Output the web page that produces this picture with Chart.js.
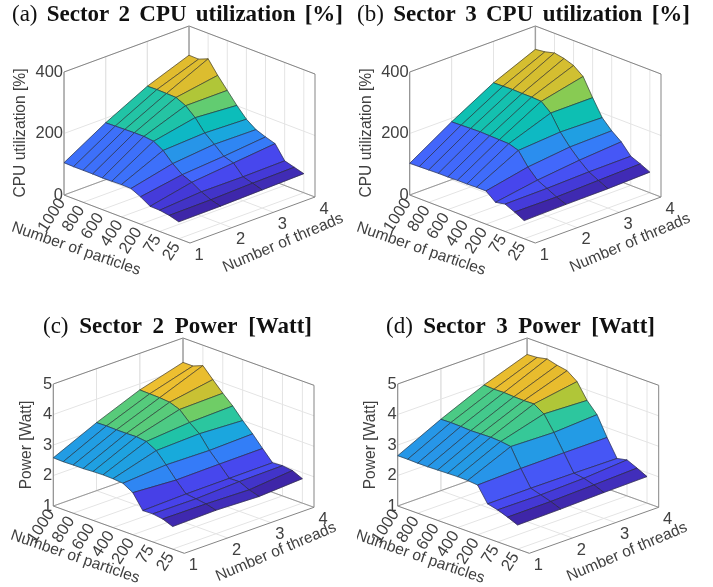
<!DOCTYPE html>
<html>
<head>
<meta charset="utf-8">
<title>Sector CPU utilization and power</title>
<script src="https://cdn.jsdelivr.net/npm/chart.js@4/dist/chart.umd.min.js"></script>
<style>
html, body { margin: 0; padding: 0; background: #fff; }
canvas { position: absolute; }
</style>
</head>
<body>
<canvas id="panelA" style="left:0;top:0"></canvas>
<canvas id="panelB" style="left:357px;top:0"></canvas>
<canvas id="panelC" style="left:0;top:300px"></canvas>
<canvas id="panelD" style="left:357px;top:300px"></canvas>
<script>
const particles = [1000, 900, 800, 700, 600, 500, 400, 300, 200, 100, 75, 50, 25];
const particleTicks = [1000, 800, 600, 400, 200, 75, 25];
const threads = [1, 2, 3, 4];
const cpuTicks = [0, 200, 400];
const powerTicks = [1, 2, 3, 4, 5];

// one row per thread count, one value per particle count
const cpuSector2 = [
    [105, 104, 104, 104, 103, 104, 105, 104, 89, 70, 69, 64, 55],
    [185, 186, 187, 188, 188, 184, 166, 135, 111, 98, 79, 65, 56],
    [254, 255, 254, 253, 238, 211, 173, 148, 121, 111, 78, 69, 59],
    [305, 304, 317, 275, 238, 201, 168, 146, 134, 124, 80, 71, 62]
];
const cpuSector3 = [
    [103, 104, 105, 106, 106, 107, 107, 108, 108, 83, 89, 75, 59],
    [188, 189, 190, 191, 190, 189, 188, 178, 136, 105, 90, 74, 62],
    [265, 266, 267, 266, 266, 264, 238, 188, 151, 120, 94, 78, 63],
    [324, 328, 336, 330, 319, 295, 238, 185, 154, 130, 95, 82, 67]
];
const powerSector2 = [
    [2.58, 2.57, 2.58, 2.58, 2.60, 2.61, 2.60, 2.57, 2.38, 1.91, 1.92, 1.87, 1.74],
    [3.23, 3.24, 3.23, 3.23, 3.24, 3.20, 3.02, 2.67, 2.29, 1.95, 1.91, 1.86, 1.77],
    [3.80, 3.79, 3.78, 3.75, 3.63, 3.32, 3.07, 2.64, 2.31, 1.96, 1.97, 1.82, 1.72],
    [4.20, 4.20, 4.33, 3.99, 3.66, 3.36, 3.00, 2.68, 2.32, 1.97, 1.99, 1.95, 1.80]
];
const powerSector3 = [
    [2.65, 2.65, 2.64, 2.64, 2.65, 2.66, 2.67, 2.66, 2.63, 2.13, 2.05, 1.93, 1.79],
    [3.34, 3.35, 3.34, 3.32, 3.33, 3.34, 3.32, 3.27, 2.67, 2.14, 2.04, 1.94, 1.81],
    [3.96, 3.94, 3.95, 3.93, 3.92, 3.93, 3.72, 3.23, 2.68, 2.13, 2.08, 1.98, 1.85],
    [4.46, 4.48, 4.55, 4.46, 4.40, 4.16, 3.66, 3.31, 2.68, 2.11, 2.18, 2.03, 1.87]
];

const parula = [
    [62, 38, 168], [71, 66, 235], [69, 99, 252], [50, 128, 247], [39, 150, 232],
    [18, 177, 214], [11, 191, 181], [55, 200, 151], [113, 205, 100], [171, 199, 57],
    [230, 187, 45], [254, 201, 56], [246, 233, 36], [249, 251, 21]
];
const GRID = '#e4e4e4';
const AXIS = '#858585';
const TEXT = '#404040';
const SERIF = '"Liberation Serif", serif';
const SANS = '"Liberation Sans", sans-serif';
const P_SPAN = 13.17;

const panels = [
    { id: 'panelA', w: 357, h: 300, tag: '(a) ', name: 'Sector 2 CPU utilization [%]', titleX: 12, titleW: 331, titleY: 21,
      values: cpuSector2, zTicks: cpuTicks, zMin: 0, zMax: 400, zLabel: 'CPU utilization [%]',
      L: [64, 195], F: [190, 243], R: [315, 197], zSpan: 123, zLabelX: 21, zLabelY: 133,
      pLabel: [76, 249], tLabel: [283, 243] },
    { id: 'panelB', w: 356, h: 300, tag: '(b) ', name: 'Sector 3 CPU utilization [%]', titleX: 0, titleW: 333, titleY: 21,
      values: cpuSector3, zTicks: cpuTicks, zMin: 0, zMax: 400, zLabel: 'CPU utilization [%]',
      L: [52.7, 195], F: [178.3, 243], R: [304, 197], zSpan: 123, zLabelX: 10, zLabelY: 133,
      pLabel: [64, 249], tLabel: [273, 243] },
    { id: 'panelC', w: 357, h: 287, tag: '(c) ', name: 'Sector 2 Power [Watt]', titleX: 43, titleW: 269, titleY: 33,
      values: powerSector2, zTicks: powerTicks, zMin: 1, zMax: 5, zLabel: 'Power [Watt]',
      L: [53.3, 206], F: [184.3, 253.3], R: [314, 207.3], zSpan: 122, zLabelX: 27, zLabelY: 145,
      pLabel: [75, 257], tLabel: [276, 252] },
    { id: 'panelD', w: 356, h: 287, tag: '(d) ', name: 'Sector 3 Power [Watt]', titleX: 29, titleW: 269, titleY: 33,
      values: powerSector3, zTicks: powerTicks, zMin: 1, zMax: 5, zLabel: 'Power [Watt]',
      L: [40.7, 206], F: [172.3, 253.3], R: [301.7, 207.3], zSpan: 122, zLabelX: 14, zLabelY: 145,
      pLabel: [63, 257], tLabel: [270, 252] }
];

function project(panel, p, t, z) {
    const fp = p / P_SPAN;
    const ft = (t - 1) / 3;
    const fz = (z - panel.zMin) / (panel.zMax - panel.zMin);
    return {
        x: panel.L[0] + (panel.F[0] - panel.L[0]) * fp + (panel.R[0] - panel.F[0]) * ft,
        y: panel.L[1] + (panel.F[1] - panel.L[1]) * fp + (panel.R[1] - panel.F[1]) * ft - panel.zSpan * fz
    };
}

function parulaColor(f) {
    const pos = Math.max(0, Math.min(1, f)) * (parula.length - 1);
    const i = Math.min(Math.floor(pos), parula.length - 2);
    const c = parula[i].map((v, k) => Math.round(v + (parula[i + 1][k] - v) * (pos - i)));
    return `rgb(${c[0]},${c[1]},${c[2]})`;
}

function lineSet(points, color, width) {
    return { data: points, showLine: true, pointRadius: 0, borderColor: color, borderWidth: width, tension: 0, clip: false };
}

function buildDatasets(panel) {
    const sets = [];
    const tEnd = threads[threads.length - 1];
    const pTickIdx = particleTicks.map(v => particles.indexOf(v));
    const P = (p, t, z) => project(panel, p, t, z);

    // floor and wall grid
    pTickIdx.forEach(p => {
        sets.push(lineSet([P(p, 1, panel.zMin), P(p, tEnd, panel.zMin), P(p, tEnd, panel.zMax)], GRID, 1));
    });
    threads.forEach(t => {
        sets.push(lineSet([P(0, t, panel.zMax), P(0, t, panel.zMin), P(P_SPAN, t, panel.zMin)], GRID, 1));
    });
    panel.zTicks.forEach(z => {
        sets.push(lineSet([P(0, 1, z), P(0, tEnd, z), P(P_SPAN, tEnd, z)], GRID, 1));
    });

    // box edges
    sets.push(lineSet([P(0, 1, panel.zMin), P(0, tEnd, panel.zMin), P(P_SPAN, tEnd, panel.zMin)], AXIS, 0.8));
    sets.push(lineSet([P(0, 1, panel.zMax), P(0, tEnd, panel.zMax), P(P_SPAN, tEnd, panel.zMax)], AXIS, 1));
    sets.push(lineSet([P(0, tEnd, panel.zMin), P(0, tEnd, panel.zMax)], '#a0a0a0', 1.4));
    sets.push(lineSet([P(0, 1, panel.zMin), P(0, 1, panel.zMax)], AXIS, 1));
    sets.push(lineSet([P(P_SPAN, tEnd, panel.zMin), P(P_SPAN, tEnd, panel.zMax)], AXIS, 1));
    sets.push(lineSet([P(0, 1, panel.zMin), P(P_SPAN, 1, panel.zMin), P(P_SPAN, tEnd, panel.zMin)], AXIS, 1));

    // surface, back to front; each face takes its colour from the nearer particle count
    const vals = panel.values;
    const flat = vals.flat();
    const cMin = Math.min(...flat);
    const cMax = Math.max(...flat);
    for (let ti = threads.length - 2; ti >= 0; ti--) {
        for (let pi = 0; pi < particles.length - 1; pi++) {
            const quad = [
                P(pi, threads[ti], vals[ti][pi]),
                P(pi + 1, threads[ti], vals[ti][pi + 1]),
                P(pi + 1, threads[ti + 1], vals[ti + 1][pi + 1]),
                P(pi, threads[ti + 1], vals[ti + 1][pi])
            ];
            quad.push(quad[0]);
            const s = lineSet(quad, '#26262e', 0.6);
            s.faceColor = parulaColor((vals[ti][pi + 1] - cMin) / (cMax - cMin));
            sets.push(s);
        }
    }
    sets.forEach((s, i) => { s.order = -i; });
    return sets;
}

const facePlugin = {
    id: 'face',
    beforeDatasetDraw(chart, args) {
        const color = chart.data.datasets[args.index].faceColor;
        if (!color) return;
        const pts = args.meta.data;
        const ctx = chart.ctx;
        ctx.save();
        ctx.beginPath();
        pts.forEach((pt, i) => { if (i) ctx.lineTo(pt.x, pt.y); else ctx.moveTo(pt.x, pt.y); });
        ctx.closePath();
        ctx.fillStyle = color;
        ctx.fill();
        ctx.strokeStyle = color;
        ctx.lineWidth = 0.4;
        ctx.stroke();
        ctx.restore();
    }
};

function drawText(ctx, text, x, y, angle, align) {
    ctx.save();
    ctx.translate(x, y);
    ctx.rotate(angle * Math.PI / 180);
    ctx.textAlign = align;
    ctx.textBaseline = 'middle';
    ctx.fillText(text, 0, 0);
    ctx.restore();
}

const labelPlugin = {
    id: 'labels',
    afterDraw(chart) {
        const panel = chart.options.plugins.labels.panel;
        const ctx = chart.ctx;
        const sx = v => chart.scales.x.getPixelForValue(v);
        const sy = v => chart.scales.y.getPixelForValue(v);
        ctx.save();
        ctx.fillStyle = TEXT;
        ctx.font = '16.5px ' + SANS;
        particleTicks.forEach(v => {
            const pos = project(panel, particles.indexOf(v), 1, panel.zMin);
            drawText(ctx, String(v), sx(pos.x) - 2, sy(pos.y) + 5, -57, 'right');
        });
        threads.forEach(t => {
            const pos = project(panel, P_SPAN, t, panel.zMin);
            drawText(ctx, String(t), sx(pos.x) + 9, sy(pos.y) + 12, 0, 'center');
        });
        panel.zTicks.forEach(z => {
            const pos = project(panel, 0, 1, z);
            drawText(ctx, String(z), sx(pos.x) - 1, sy(pos.y), 0, 'right');
        });
        ctx.font = '15.6px ' + SANS;
        drawText(ctx, panel.zLabel, panel.zLabelX, panel.zLabelY, -90, 'center');
        drawText(ctx, 'Number of particles', panel.pLabel[0], panel.pLabel[1], 19, 'center');
        drawText(ctx, 'Number of threads', panel.tLabel[0], panel.tLabel[1], -23, 'center');

        // caption: regular tag, bold name, stretched to the caption width
        ctx.fillStyle = '#111';
        ctx.textAlign = 'left';
        ctx.textBaseline = 'alphabetic';
        ctx.font = '23px ' + SERIF;
        ctx.wordSpacing = '0px';
        const tagW = ctx.measureText(panel.tag).width;
        ctx.font = 'bold 23px ' + SERIF;
        const nameW = ctx.measureText(panel.name).width;
        const gaps = panel.name.split(' ').length;
        const extra = Math.max(0, (panel.titleW - tagW - nameW) / gaps);
        ctx.font = '23px ' + SERIF;
        ctx.fillText(panel.tag, panel.titleX, panel.titleY);
        ctx.font = 'bold 23px ' + SERIF;
        ctx.wordSpacing = extra + 'px';
        ctx.fillText(panel.name, panel.titleX + tagW + extra, panel.titleY);
        ctx.restore();
    }
};

function makeChart(panel) {
    const canvas = document.getElementById(panel.id);
    canvas.width = panel.w;
    canvas.height = panel.h;
    return new Chart(canvas, {
        type: 'scatter',
        data: { datasets: buildDatasets(panel) },
        plugins: [facePlugin, labelPlugin],
        options: {
            responsive: false,
            animation: false,
            events: [],
            layout: { padding: 0 },
            scales: {
                x: { type: 'linear', display: false, min: 0, max: panel.w },
                y: { type: 'linear', display: false, min: 0, max: panel.h, reverse: true }
            },
            plugins: { legend: { display: false }, tooltip: { enabled: false }, labels: { panel } }
        }
    });
}

panels.forEach(makeChart);
</script>
</body>
</html>
